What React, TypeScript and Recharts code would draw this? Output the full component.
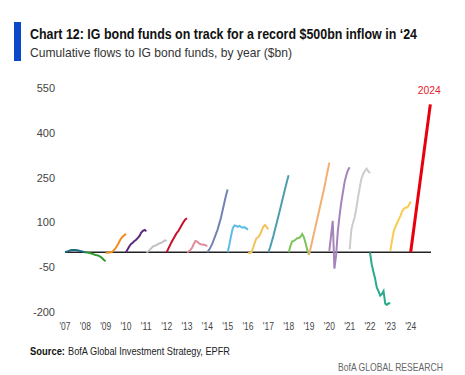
import React from "react";
import {
  LineChart,
  Line,
  XAxis,
  YAxis,
  ReferenceLine,
  LabelList,
} from "recharts";

// Year axis and tick labels
const years = [
  2007, 2008, 2009, 2010, 2011, 2012, 2013, 2014, 2015, 2016, 2017, 2018,
  2019, 2020, 2021, 2022, 2023, 2024,
];
const yearTicks = ["'07", "'08", "'09", "'10", "'11", "'12", "'13", "'14", "'15", "'16", "'17", "'18", "'19", "'20", "'21", "'22", "'23", "'24"];
const valueTicks = [-200, -50, 100, 250, 400, 550];

// Cumulative flows ($bn), month-end readings, Jan start to Dec end
const flows2007 = [0, 2, 4, 6, 8, 8, 8, 7, 6, 4, 3, 1, 0];
const flows2008 = [0, -1, -2, -3, -5, -7, -9, -10, -12, -15, -20, -26, -30];
const flows2009 = [-2, -2, -1, 0, 2, 8, 15, 24, 35, 45, 52, 57, 62];
const flows2010 = [0, 10, 20, 28, 32, 38, 42, 48, 55, 66, 72, 75, 70];
const flows2011 = [0, 3, 8, 14, 20, 22, 24, 28, 30, 32, 36, 40, 38];
const flows2012 = [0, 12, 24, 35, 45, 55, 65, 72, 82, 92, 102, 110, 114];
const flows2013 = [0, 3, 8, 15, 28, 38, 36, 30, 27, 26, 25, 23, 21];
const flows2014 = [0, 8, 18, 30, 45, 60, 75, 95, 115, 140, 165, 190, 210];
const flows2015 = [0, 25, 55, 80, 90, 88, 86, 88, 84, 82, 84, 80, 76];
const flows2016 = [-2, -3, 0, 15, 32, 47, 50, 58, 72, 85, 91, 84, 77];
const flows2017 = [0, 15, 35, 55, 78, 100, 122, 145, 168, 192, 215, 238, 258];
const flows2018 = [0, 20, 36, 38, 42, 47, 48, 52, 61, 50, 30, 8, -8];
const flows2019 = [-8, 15, 40, 65, 90, 115, 140, 165, 190, 215, 245, 272, 300];
const flows2020 = [5, 55, 105, -55, -10, 70, 120, 165, 200, 235, 258, 275, 285];
const flows2021 = [10, 75, 100, 118, 150, 186, 218, 248, 262, 272, 280, 272, 265];
const flows2022 = [0, -40, -65, -88, -118, -130, -145, -140, -130, -172, -176, -170, -172];
const flows2023 = [5, 40, 70, 85, 98, 110, 122, 138, 145, 150, 150, 158, 170];
// 2024 projection: start and end of the year
const flows2024 = [0, 495];
const months2024 = [0, 11.6];

const colors = [
  "#1e6a80", "#2e9a30", "#f08c1e", "#5a2a7e", "#c0c0c0", "#c8102e",
  "#e08a9a", "#7482b4", "#5cbce8", "#f4c25a", "#4e9cb0", "#7cc45a",
  "#f2b070", "#a584bc", "#cccccc", "#2aaa8c", "#f8cc50", "#e8000e",
];

const allFlows = [
  flows2007, flows2008, flows2009, flows2010, flows2011, flows2012,
  flows2013, flows2014, flows2015, flows2016, flows2017, flows2018,
  flows2019, flows2020, flows2021, flows2022, flows2023, flows2024,
];

const series = years.map((year, i) => {
  const vals = allFlows[i];
  const months = year === 2024 ? months2024 : vals.map((_, m) => m);
  return {
    year,
    color: colors[i],
    data: vals.map((v, k) => ({ x: year + months[k] / 12, y: v })),
  };
});

const FONT = "'Liberation Sans', Arial, sans-serif";

const YearLabel = (props: any) => {
  const { x, y, index } = props;
  if (index !== flows2024.length - 1) return null;
  return (
    <text x={x - 1} y={y - 10} textAnchor="middle" fill="#e8202a" fontSize={11} fontFamily={FONT} textLength={23} lengthAdjust="spacingAndGlyphs">
      2024
    </text>
  );
};

const XTick = (props: any) => {
  const { x, y, payload } = props;
  return (
    <text x={x} y={y + 9} textAnchor="middle" fill="#444" fontSize={11} fontFamily={FONT} textLength={11} lengthAdjust="spacingAndGlyphs">
      {yearTicks[years.indexOf(payload.value)]}
    </text>
  );
};

export default function App() {
  return (
    <div
      style={{
        position: "absolute",
        left: 0,
        top: 0,
        width: 465,
        height: 375,
        background: "#fff",
        fontFamily: FONT,
        overflow: "hidden",
      }}
    >
      <LineChart
        width={465}
        height={375}
        style={{ position: "absolute", left: 0, top: 0 }}
        margin={{ top: 88, right: 34, bottom: 33, left: 25 }}
      >
        <XAxis
          dataKey="x"
          type="number"
          domain={[2007, 2025]}
          ticks={years}
          interval={0}
          axisLine={false}
          tickLine={false}
          tickMargin={3}
          height={30}
          allowDuplicatedCategory={false}
          tick={<XTick />}
        />
        <YAxis
          type="number"
          domain={[-200, 550]}
          ticks={valueTicks}
          interval={0}
          axisLine={false}
          tickLine={false}
          tickMargin={4}
          width={40}
          tick={{ fill: "#444", fontSize: 11, fontFamily: FONT }}
        />
        <ReferenceLine y={0} stroke="#222" strokeWidth={1.5} />
        {series.map((s) => (
          <Line
            key={s.year}
            data={s.data}
            dataKey="y"
            type="linear"
            stroke={s.color}
            strokeWidth={s.year === 2024 ? 3 : 2}
            dot={false}
            activeDot={false}
            isAnimationActive={false}
          >
            {s.year === 2024 && <LabelList dataKey="y" content={YearLabel} />}
          </Line>
        ))}
      </LineChart>

      <svg width={465} height={375} style={{ position: "absolute", left: 0, top: 0, pointerEvents: "none" }}>
        <rect x={14} y={22} width={7} height={39} fill="#0b47c9" />
        <text x={30} y={38.5} fontSize={14} fontWeight={700} fill="#111" fontFamily={FONT} textLength={387} lengthAdjust="spacingAndGlyphs">
          Chart 12: IG bond funds on track for a record $500bn inflow in ‘24
        </text>
        <text x={30} y={56.5} fontSize={13.5} fill="#333" fontFamily={FONT} textLength={262} lengthAdjust="spacingAndGlyphs">
          Cumulative flows to IG bond funds, by year ($bn)
        </text>
        <text x={30} y={355} fontSize={10.5} fontWeight={700} fill="#111" fontFamily={FONT} textLength={35} lengthAdjust="spacingAndGlyphs">
          Source:
        </text>
        <text x={68} y={355} fontSize={10.5} fill="#222" fontFamily={FONT} textLength={162} lengthAdjust="spacingAndGlyphs">
          BofA Global Investment Strategy, EPFR
        </text>
        <text x={338} y={370.5} fontSize={10.5} fill="#666" fontFamily={FONT} textLength={105} lengthAdjust="spacingAndGlyphs">
          BofA GLOBAL RESEARCH
        </text>
      </svg>
    </div>
  );
}
